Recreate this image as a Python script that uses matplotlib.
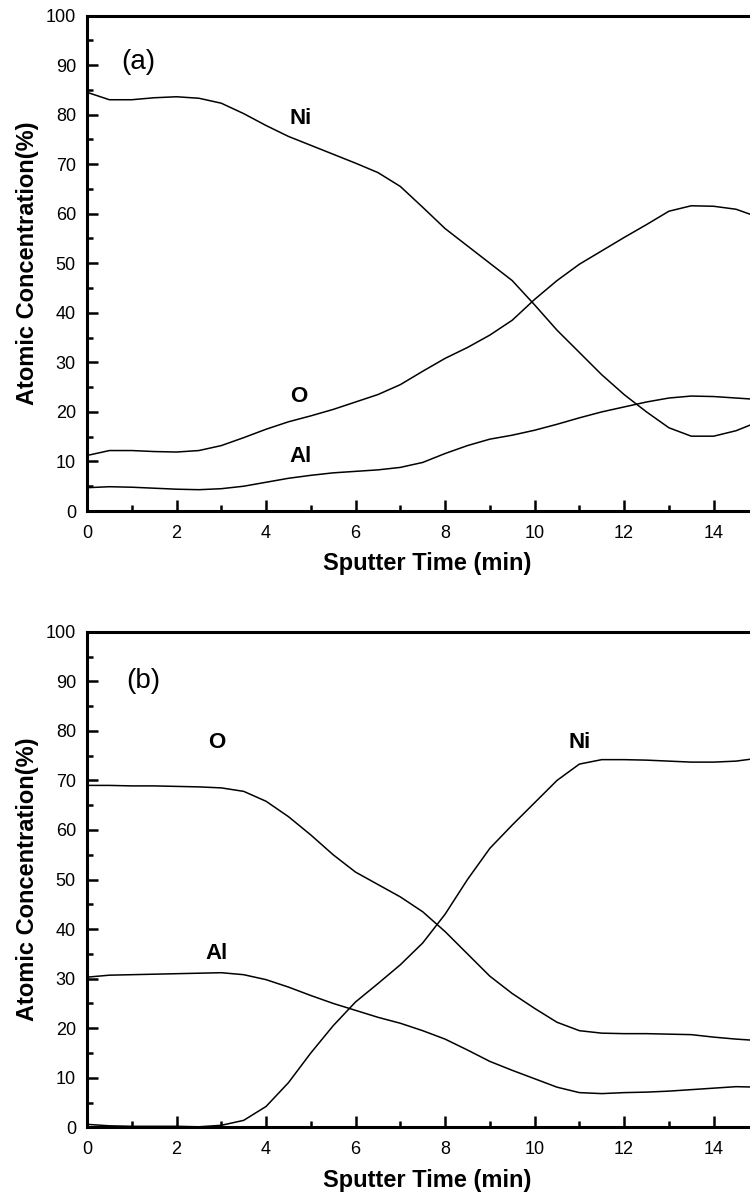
import numpy as np
import matplotlib
matplotlib.use("Agg")
import matplotlib.pyplot as plt
from matplotlib.ticker import MultipleLocator

plt.rcParams['font.family'] = ['Liberation Sans', 'DejaVu Sans']

# ---- data ----
time = [0, 0.5, 1, 1.5, 2, 2.5, 3, 3.5, 4, 4.5, 5, 5.5, 6, 6.5, 7, 7.5,
        8, 8.5, 9, 9.5, 10, 10.5, 11, 11.5, 12, 12.5, 13, 13.5, 14, 14.5, 15]

ni_a = [84.5, 83.0, 83.0, 83.4, 83.6, 83.3, 82.3, 80.2, 77.8, 75.6, 73.8, 72.0, 70.2, 68.3, 65.5, 61.3,
        57.0, 53.5, 50.0, 46.5, 41.6, 36.5, 32.0, 27.5, 23.5, 20.0, 16.8, 15.1, 15.1, 16.2, 18.0]
o_a = [11.2, 12.2, 12.2, 12.0, 11.9, 12.2, 13.2, 14.8, 16.5, 18.0, 19.2, 20.5, 22.0, 23.5, 25.5, 28.2,
       30.8, 33.0, 35.5, 38.5, 42.7, 46.5, 49.8, 52.5, 55.2, 57.8, 60.5, 61.6, 61.5, 60.9, 59.3]
al_a = [4.7, 4.9, 4.8, 4.6, 4.4, 4.3, 4.5, 5.0, 5.8, 6.6, 7.2, 7.7, 8.0, 8.3, 8.8, 9.8,
        11.6, 13.2, 14.5, 15.3, 16.3, 17.5, 18.8, 20.0, 21.0, 22.0, 22.8, 23.2, 23.1, 22.8, 22.5]

o_b = [69.0, 69.0, 68.9, 68.9, 68.8, 68.7, 68.5, 67.8, 65.8, 62.7, 59.0, 55.0, 51.5, 49.0, 46.5, 43.5,
       39.5, 35.0, 30.5, 27.0, 24.0, 21.2, 19.5, 19.0, 18.9, 18.9, 18.8, 18.7, 18.2, 17.8, 17.5]
al_b = [30.3, 30.7, 30.8, 30.9, 31.0, 31.1, 31.2, 30.8, 29.8, 28.3, 26.6, 25.0, 23.6, 22.2, 21.0, 19.5,
        17.8, 15.6, 13.3, 11.5, 9.8, 8.1, 7.0, 6.8, 7.0, 7.1, 7.3, 7.6, 7.9, 8.2, 8.1]
ni_b = [0.6, 0.3, 0.2, 0.2, 0.2, 0.1, 0.4, 1.4, 4.2, 9.0, 15.0, 20.5, 25.3, 29.0, 32.8, 37.2,
        43.0, 50.0, 56.3, 61.0, 65.5, 70.0, 73.3, 74.2, 74.2, 74.1, 73.9, 73.7, 73.7, 73.9, 74.5]

panel_tags = ["(a)", "(b)"]
xlabel = "Sputter Time (min)"
ylabel = "Atomic Concentration(%)"

W, H = 750, 1193
fig = plt.figure(figsize=(W / 100, H / 100), dpi=100)

x_px_per_unit = 44.76
xmax = 15.2
left = 87 / W
width = xmax * x_px_per_unit / W
h = 495.5 / H

ax_a = fig.add_axes([left, 1 - 511 / H, width, h])
ax_b = fig.add_axes([left, 1 - 1127.3 / H, width, h])

series = [
    (ax_a, [ni_a, o_a, al_a], [("Ni", 4.77, 78.2), ("O", 4.73, 22.0), ("Al", 4.77, 9.95)], (1.15, 90.6)),
    (ax_b, [o_b, al_b, ni_b], [("O", 2.9, 76.5), ("Al", 2.9, 34.0), ("Ni", 11.0, 76.5)], (1.26, 90.0)),
]

for i, (ax, ys, labels, tagpos) in enumerate(series):
    for y in ys:
        ax.plot(time, y, color='black', lw=1.1)
    ax.set_xlim(0, xmax)
    ax.set_ylim(0, 100)
    ax.xaxis.set_major_locator(MultipleLocator(2))
    ax.xaxis.set_minor_locator(MultipleLocator(1))
    ax.yaxis.set_major_locator(MultipleLocator(10))
    ax.yaxis.set_minor_locator(MultipleLocator(5))
    ax.tick_params(which='both', direction='in', top=False, right=False,
                   labelsize=13, width=1.8)
    ax.tick_params(which='major', length=8)
    ax.tick_params(which='minor', length=4.3)
    ax.tick_params(axis='x', which='major', pad=10)
    ax.tick_params(axis='y', which='major', pad=8)
    for s in ax.spines.values():
        s.set_linewidth(2.2)
    ax.set_xlabel(xlabel, fontsize=17, fontweight='bold', labelpad=7.5)
    ax.set_ylabel(ylabel, fontsize=17, fontweight='bold', labelpad=5)
    for txt, x, y in labels:
        ax.text(x, y, txt, fontsize=16, fontweight='bold', ha='center', va='baseline')
    ax.text(tagpos[0], tagpos[1], panel_tags[i], fontsize=20, ha='center', va='center')

fig.savefig("out.png", dpi=100)
